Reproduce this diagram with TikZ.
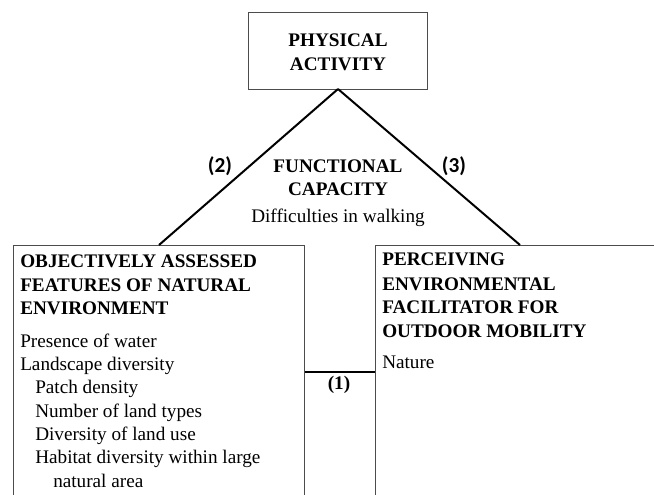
\documentclass[tikz,border=0pt]{standalone}
\usepackage{fontspec}
\setmainfont{Liberation Serif}
\newfontfamily\calib{Carlito}
\begin{document}
\begin{tikzpicture}[x=0.75pt,y=-0.75pt,
  boxline/.style={draw=black!70, line width=0.8pt},
  conn/.style={draw=black, line width=1.5pt},
  txt/.style={anchor=base west, inner sep=0pt, font=\fontsize{14.4}{17}\selectfont},
  hd/.style={anchor=base west, inner sep=0pt, font=\fontsize{14.4}{17}\selectfont\bfseries},
  hdc/.style={anchor=base, inner sep=0pt, font=\fontsize{14.4}{17}\selectfont\bfseries},
  num/.style={anchor=base, inner sep=0pt, font=\fontsize{16}{19}\selectfont\calib\bfseries}]
\useasboundingbox (0,0) rectangle (654,494);
\clip (0,0) rectangle (654,494);
\fill[white] (0,0) rectangle (654,494);
% boxes
\node[boxline, draw, minimum width=134.25pt, minimum height=57.75pt, inner sep=0pt, anchor=north west] (pa) at (248,12) {};
\coordinate (apex) at (338,89);
\node[boxline, draw, minimum width=218.25pt, minimum height=225pt, inner sep=0pt, anchor=north west] (obj) at (12.5,245) {};
\node[boxline, draw, minimum width=225pt, minimum height=225pt, inner sep=0pt, anchor=north west] (per) at (375,245) {};
\coordinate (objtop) at (159,245);
\coordinate (pertop) at (520,245);
% connectors
\draw[conn] (apex) -- (objtop);
\draw[conn] (apex) -- (pertop);
\draw[conn] (obj.east |- 0,372) coordinate (c1a) -- (per.west |- 0,372) coordinate (c1b);
% top box text
\node[hdc] (t1) at (338,46) {PHYSICAL};
\node[hdc] (t2) at (338,70) {ACTIVITY};
% middle
\node[hdc] (f1) at (338,172) {FUNCTIONAL};
\node[hdc] (f2) at (338,195) {CAPACITY};
\node[anchor=base, inner sep=0pt, font=\fontsize{14.4}{17}\selectfont] (f3) at (338,222) {Difficulties in walking};
\node[num] (n2) at (220,172) {(2)};
\node[num] (n3) at (454,172) {(3)};
\node[hdc] (n1) at (339,389) {(1)};
% left box text
\node[hd] (o1) at (20,267) {OBJECTIVELY ASSESSED};
\node[hd] (o2) at (20,291) {FEATURES OF NATURAL};
\node[hd] (o3) at (20,314) {ENVIRONMENT};
\node[txt] (o4) at (20,347) {Presence of water};
\node[txt] (o5) at (20,370) {Landscape diversity};
\node[txt] (o6) at (35,393) {Patch density};
\node[txt] (o7) at (35,417) {Number of land types};
\node[txt] (o8) at (35,440) {Diversity of land use};
\node[txt] (o9) at (35,463) {Habitat diversity within large};
\node[txt] (o10) at (53,487) {natural area};
% right box text
\node[hd] (p1) at (382,265) {PERCEIVING};
\node[hd] (p2) at (382,290) {ENVIRONMENTAL};
\node[hd] (p3) at (382,313) {FACILITATOR FOR};
\node[hd] (p4) at (382,337) {OUTDOOR MOBILITY};
\node[txt] (p5) at (382,368) {Nature};
\end{tikzpicture}
\end{document}
